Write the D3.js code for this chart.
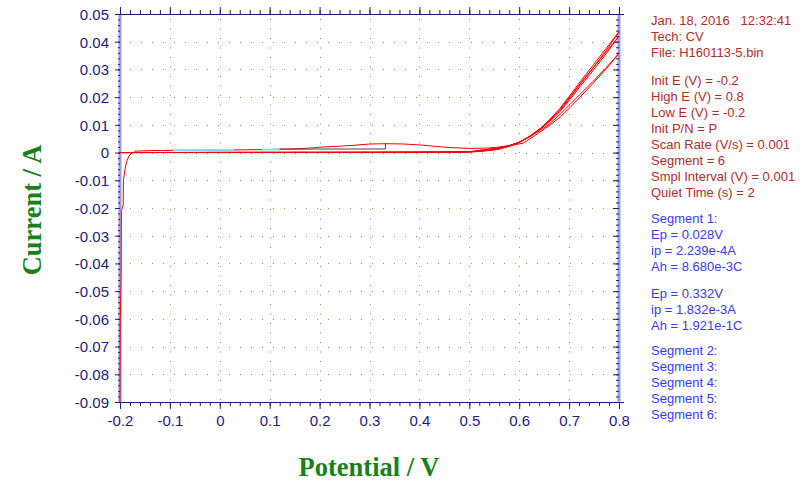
<!DOCTYPE html>
<html>
<head>
<meta charset="utf-8">
<script src="https://cdn.jsdelivr.net/npm/d3@7"></script>
<style>
  html, body { margin: 0; padding: 0; background: #ffffff; }
  svg { display: block; }
</style>
</head>
<body>
<script>
// ---------------- DATA ----------------
const xTicks = [-0.2, -0.1, 0, 0.1, 0.2, 0.3, 0.4, 0.5, 0.6, 0.7, 0.8];
const yTicks = [0.05, 0.04, 0.03, 0.02, 0.01, 0, -0.01, -0.02, -0.03, -0.04, -0.05, -0.06, -0.07, -0.08, -0.09];

// Segment 1 : forward scan (-0.2 -> 0.8) with initial charging spike and the 0.332 V hump
const seg1 = [[-0.2,-0.09],[-0.1995,-0.06],[-0.1978,-0.045],[-0.1972,-0.021],[-0.1936,-0.019],[-0.1932,-0.010],
  [-0.19,-0.006],[-0.1866,-0.0033],[-0.182,-0.0012],[-0.1766,-0.0003],[-0.172,0.0],[-0.170,0.0005],
  [-0.14,0.0007],[-0.1,0.0008],[-0.05,0.0009],[0.0,0.0009],[0.05,0.0010],[0.1,0.0011],[0.14,0.0013],
  [0.18,0.0016],[0.205,0.0020],[0.24,0.0023],[0.267,0.0026],[0.301,0.0031],[0.331,0.0032],[0.367,0.0031],
  [0.405,0.0027],[0.435,0.0022],[0.461,0.0018],[0.501,0.0015],[0.535,0.0016],[0.555,0.0019],[0.582,0.0025],
  [0.608,0.0034],[0.636,0.0067],[0.66,0.0097],[0.682,0.0128],[0.702,0.0163],[0.722,0.0200],[0.748,0.0250],
  [0.775,0.0303],[0.8,0.0358]];
// Segment 2 : reverse (0.8 -> -0.2)
const seg2 = [[0.8,0.0358],[0.775,0.0308],[0.748,0.0257],[0.722,0.0210],[0.702,0.0174],[0.682,0.0138],
  [0.66,0.0102],[0.642,0.0080],[0.62,0.0056],[0.6,0.0038],[0.58,0.0024],[0.56,0.0014],[0.541,0.0009],
  [0.52,0.0005],[0.5,0.0003],[0.45,0.0001],[0.4,0.0],[0.2,0.0],[0.0,0.0],[-0.2,0.0]];
// Segment 3 : forward
const seg3 = [[-0.2,0.0],[0.0,0.0001],[0.3,0.0001],[0.45,0.0002],[0.5,0.0003],[0.541,0.0012],[0.56,0.0017],
  [0.58,0.0025],[0.6,0.0036],[0.62,0.0056],[0.642,0.0085],[0.66,0.0112],[0.682,0.0152],[0.702,0.0198],
  [0.722,0.0245],[0.748,0.0305],[0.775,0.0370],[0.8,0.0436]];
// Segment 4 : reverse
const seg4 = [[0.8,0.0436],[0.775,0.0378],[0.748,0.0315],[0.722,0.0255],[0.702,0.0207],[0.682,0.0160],
  [0.66,0.0117],[0.642,0.0087],[0.62,0.0058],[0.6,0.0037],[0.58,0.0023],[0.56,0.0013],[0.541,0.0008],
  [0.52,0.0004],[0.5,0.0002],[0.45,0.0001],[-0.2,0.0]];
// Segment 5 : forward
const seg5 = [[-0.2,0.0],[0.3,0.0001],[0.5,0.0003],[0.541,0.0013],[0.56,0.0018],[0.58,0.0026],[0.6,0.0037],
  [0.62,0.0057],[0.642,0.0084],[0.66,0.0110],[0.682,0.0148],[0.702,0.0192],[0.722,0.0238],[0.748,0.0296],
  [0.775,0.0358],[0.8,0.0420]];
// Segment 6 : reverse
const seg6 = [[0.8,0.0420],[0.775,0.0365],[0.748,0.0306],[0.722,0.0248],[0.702,0.0202],[0.682,0.0156],
  [0.66,0.0114],[0.642,0.0086],[0.62,0.0057],[0.6,0.0037],[0.58,0.0023],[0.56,0.0013],[0.541,0.0008],
  [0.5,0.0002],[-0.2,0.0]];
const segments = [seg1, seg2, seg3, seg4, seg5, seg6];

// Peak baselines
const cyanBaseA = [[-0.094,0.0009],[0.028,0.00095]];
const cyanBaseB = [[0.085,0.00105],[0.12,0.0011]];
const peak2Base = [[0.12,0.00125],[0.332,0.0013],[0.332,0.0031]];

// Info panel texts
const infoHeader = ["Jan. 18, 2016   12:32:41", "Tech: CV", "File: H160113-5.bin"];
const infoParams = ["Init E (V) = -0.2", "High E (V) = 0.8", "Low E (V) = -0.2", "Init P/N = P",
  "Scan Rate (V/s) = 0.001", "Segment = 6", "Smpl Interval (V) = 0.001", "Quiet Time (s) = 2"];
const infoPeak1 = ["Segment 1:", "Ep = 0.028V", "ip = 2.239e-4A", "Ah = 8.680e-3C"];
const infoPeak2 = ["Ep = 0.332V", "ip = 1.832e-3A", "Ah = 1.921e-1C"];
const infoSegs = ["Segment 2:", "Segment 3:", "Segment 4:", "Segment 5:", "Segment 6:"];

const xLabel = "Potential / V";
const yLabel = "Current / A";

// ---------------- DRAW ----------------
const W = 800, H = 494;
const L = 120, R = 619, T = 14, B = 402;
const navy = "#1c1c7c", lav = "#9c9ce0", gridCol = "#72a84a";
const redText = "#b32b2b", blueText = "#3a3af2", green = "#1a801a";

const svg = d3.select("body").append("svg").attr("width", W).attr("height", H)
  .style("font-family", "Arial, 'Liberation Sans', sans-serif");

const x = d3.scaleLinear().domain([-0.2, 0.8]).range([L, R]);
const y = d3.scaleLinear().domain([-0.09, 0.05]).range([B, T]);

// dotted grid
const grid = svg.append("g");
grid.selectAll("line.gx").data(xTicks.slice(1, -1)).join("line")
  .attr("x1", d => Math.round(x(d)) + 0.5).attr("x2", d => Math.round(x(d)) + 0.5)
  .attr("y1", T + 5).attr("y2", B)
  .attr("stroke", gridCol).attr("stroke-width", 1).attr("stroke-dasharray", "1,8.5");
grid.selectAll("line.gy").data(yTicks.slice(1, -1)).join("line")
  .attr("y1", d => Math.round(y(d)) + 0.5).attr("y2", d => Math.round(y(d)) + 0.5)
  .attr("x1", L + 10).attr("x2", R)
  .attr("stroke", gridCol).attr("stroke-width", 1).attr("stroke-dasharray", "1,10");

const fmtY = d => d === 0 ? "0" : d.toFixed(2);
const fmtX = d => d === 0 ? "0" : d.toFixed(1);

// lavender vertical axis lines
svg.append("line").attr("x1", L).attr("x2", L).attr("y1", T).attr("y2", B)
  .attr("stroke", lav).attr("stroke-width", 3);
svg.append("line").attr("x1", R).attr("x2", R).attr("y1", T).attr("y2", B)
  .attr("stroke", lav).attr("stroke-width", 3);

// minor ticks
const yMinor = y.ticks(70);
const xMinor = x.ticks(50);

// left axis
const gl = svg.append("g").attr("transform", `translate(${L},0)`)
  .call(d3.axisLeft(y).tickValues(yTicks).tickSize(5).tickPadding(6).tickFormat(fmtY));
gl.append("g").call(d3.axisLeft(y).tickValues(yMinor).tickSize(2).tickFormat(""));
// right axis
const gr = svg.append("g").attr("transform", `translate(${R},0)`)
  .call(d3.axisLeft(y).tickValues(yTicks).tickSize(6).tickFormat(""));
gr.append("g").call(d3.axisLeft(y).tickValues(yMinor).tickSize(3).tickFormat(""));
// bottom axis
const gb = svg.append("g").attr("transform", `translate(0,${B})`)
  .call(d3.axisBottom(x).tickValues(xTicks).tickSize(7).tickPadding(6).tickFormat(fmtX));
gb.append("g").call(d3.axisBottom(x).tickValues(xMinor).tickSize(4).tickFormat(""));
// top axis
const gt = svg.append("g").attr("transform", `translate(0,${T})`)
  .call(d3.axisTop(x).tickValues(xTicks).tickSize(7).tickFormat(""));
gt.append("g").call(d3.axisTop(x).tickValues(xMinor).tickSize(4).tickFormat(""));

[gl, gr, gb, gt].forEach(g => {
  g.selectAll(".domain").remove();
  g.selectAll("line").attr("stroke", navy);
  g.selectAll("text").attr("fill", navy).style("font-size", "15px")
    .style("font-family", "Arial, 'Liberation Sans', sans-serif");
});
gl.selectAll("text").attr("dy", "0.36em");
// horizontal axis lines
svg.append("line").attr("x1", L - 5).attr("x2", R + 5).attr("y1", B + 0.5).attr("y2", B + 0.5)
  .attr("stroke", navy).attr("stroke-width", 1);
svg.append("line").attr("x1", L - 5).attr("x2", R + 5).attr("y1", T + 0.5).attr("y2", T + 0.5)
  .attr("stroke", navy).attr("stroke-width", 1);

// curves
const line = d3.line().x(d => x(d[0])).y(d => y(d[1]));
const curves = svg.append("g");
curves.selectAll("path.seg").data(segments).join("path")
  .attr("d", line).attr("fill", "none").attr("stroke", "#ff0000").attr("stroke-width", 1);
curves.selectAll("path.cy").data([cyanBaseA, cyanBaseB]).join("path")
  .attr("d", line).attr("fill", "none").attr("stroke", "#6ee8f2").attr("stroke-width", 1.8);
curves.append("path").datum(peak2Base).attr("d", line).attr("fill", "none")
  .attr("stroke", "#444444").attr("stroke-width", 1);

// axis titles
svg.append("text").attr("x", 369).attr("y", 476).attr("text-anchor", "middle")
  .attr("fill", green).style("font-family", "'Liberation Serif', 'Times New Roman', serif")
  .style("font-weight", "bold").style("font-size", "26.5px").text(xLabel);
svg.append("text").attr("transform", "translate(41,210) rotate(-90)").attr("text-anchor", "middle")
  .attr("fill", green).style("font-family", "'Liberation Serif', 'Times New Roman', serif")
  .style("font-weight", "bold").style("font-size", "26.5px").text(yLabel);

// info panel
const info = svg.append("g").style("font-size", "13px");
function block(lines, y0, col) {
  info.selectAll(null).data(lines).join("text")
    .attr("x", 651).attr("y", (d, i) => y0 + i * 16).attr("fill", col)
    .attr("xml:space", "preserve").style("white-space", "pre").text(d => d);
}
block(infoHeader, 24.5, redText);
block(infoParams, 84.5, redText);
block(infoPeak1, 222.5, blueText);
block(infoPeak2, 297.5, blueText);
block(infoSegs, 354.5, blueText);
</script>
</body>
</html>
